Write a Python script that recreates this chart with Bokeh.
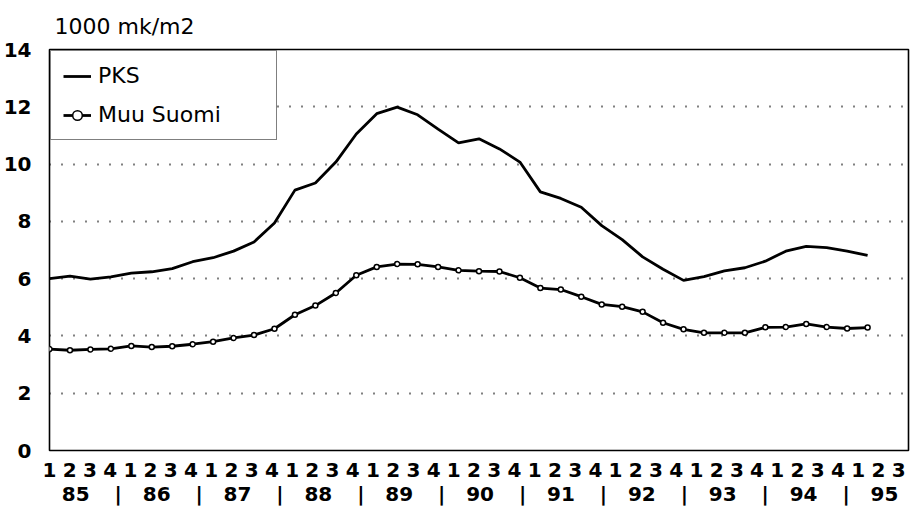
from bokeh.plotting import figure
from bokeh.models import Range1d, LinearAxis, FixedTicker, Legend, LegendItem
from bokeh.embed import file_html
from bokeh.resources import INLINE

# ---- data (quarterly, 1985 Q1 .. 1995 Q1) ----
quarter = list(range(41))
pks = [6.00, 6.09, 5.98, 6.06, 6.19, 6.24, 6.35, 6.59, 6.73, 6.96,
       7.28, 7.94, 9.09, 9.34, 10.07, 11.05, 11.76, 11.99, 11.72, 11.22,
       10.74, 10.88, 10.53, 10.07, 9.03, 8.80, 8.49, 7.85, 7.36, 6.76,
       6.33, 5.94, 6.07, 6.27, 6.38, 6.61, 6.96, 7.13, 7.08, 6.96, 6.81]
muu = [3.54, 3.50, 3.53, 3.55, 3.65, 3.61, 3.64, 3.71, 3.80, 3.93,
       4.03, 4.25, 4.74, 5.06, 5.50, 6.12, 6.41, 6.51, 6.50, 6.41,
       6.29, 6.26, 6.25, 6.03, 5.67, 5.62, 5.37, 5.10, 5.02, 4.84,
       4.46, 4.23, 4.11, 4.11, 4.11, 4.30, 4.31, 4.42, 4.31, 4.26, 4.29]
quarter_labels = ["1", "2", "3", "4"] * 10 + ["1", "2", "3"]
years = ["85", "86", "87", "88", "89", "90", "91", "92", "93", "94", "95"]
y_ticks = [0, 2, 4, 6, 8, 10, 12, 14]
grid_ticks = [2, 4, 6, 8, 10, 12]

FONT = "DejaVu Sans"

p = figure(width=912, height=508,
           x_range=Range1d(0, 42), y_range=Range1d(0, 14),
           x_axis_location=None,
           output_backend="svg", toolbar_location=None,
           min_border_left=48, min_border_right=4,
           min_border_top=48, min_border_bottom=55)
p.background_fill_color = "white"
p.border_fill_color = "white"
p.outline_line_color = "black"
p.outline_line_width = 1.6

# label scale (tenths of a label slot)
p.extra_x_ranges = {"lab": Range1d(0, 424.9)}

ax1 = LinearAxis(x_range_name="lab",
                 ticker=FixedTicker(ticks=[10 * j for j in range(len(quarter_labels))]))
ax1.major_label_overrides = {10 * j: t for j, t in enumerate(quarter_labels)}
ax1.major_label_standoff = 6
ax2 = LinearAxis(x_range_name="lab")
yr_pos = [40 * k + 13 for k in range(len(years))]
sep_pos = [40 * k + 34 for k in range(len(years) - 1)]
ax2.ticker = FixedTicker(ticks=yr_pos + sep_pos)
ov = {pos: y for pos, y in zip(yr_pos, years)}
ov.update({pos: "|" for pos in sep_pos})
ax2.major_label_overrides = ov
ax2.major_label_standoff = -4
for ax in (ax1, ax2):
    ax.axis_line_color = None
    ax.major_tick_line_color = None
    ax.minor_tick_line_color = None
    ax.major_label_text_font = FONT
    ax.major_label_text_font_size = "20px"
    ax.major_label_text_font_style = "bold"
    ax.major_label_text_color = "black"
    p.add_layout(ax, "below")

p.yaxis.ticker = FixedTicker(ticks=y_ticks)
p.yaxis.axis_line_color = None
p.yaxis.major_tick_line_color = None
p.yaxis.minor_tick_line_color = None
p.yaxis.major_label_standoff = 12
p.yaxis.major_label_text_font = FONT
p.yaxis.major_label_text_font_size = "20px"
p.yaxis.major_label_text_font_style = "bold"
p.yaxis.major_label_text_color = "black"

p.xgrid.visible = False
p.ygrid.ticker = FixedTicker(ticks=grid_ticks)
p.ygrid.grid_line_color = "black"
p.ygrid.grid_line_width = 2
p.ygrid.grid_line_dash = "1 11"

r1 = p.line(quarter, pks, line_color="black", line_width=2.8)
r2 = p.line(quarter, muu, line_color="black", line_width=2.8)
r2m = p.scatter(quarter, muu, marker="circle", size=5, fill_color="white",
                line_color="black", line_width=1.5)

legend = Legend(items=[LegendItem(label="PKS", renderers=[r1]),
                       LegendItem(label="Muu Suomi", renderers=[r2, r2m])],
                location="top_left")
legend.margin = 1
legend.padding = 12
legend.spacing = 14
legend.glyph_width = 28
legend.glyph_height = 24
legend.label_height = 24
legend.label_width = 166
legend.label_standoff = 7
legend.label_text_font = FONT
legend.label_text_font_size = "22px"
legend.label_text_color = "black"
legend.border_line_color = "black"
legend.border_line_width = 1.6
legend.background_fill_color = "white"
legend.background_fill_alpha = 1.0
p.add_layout(legend)

p.title.text = "1000 mk/m2"
p.title.text_font = FONT
p.title.text_font_size = "22px"
p.title.text_font_style = "normal"
p.title.text_color = "black"
p.title.align = "left"
p.title.offset = 5
p.title.standoff = 22

open("out.html", "w").write(file_html(p, INLINE))
